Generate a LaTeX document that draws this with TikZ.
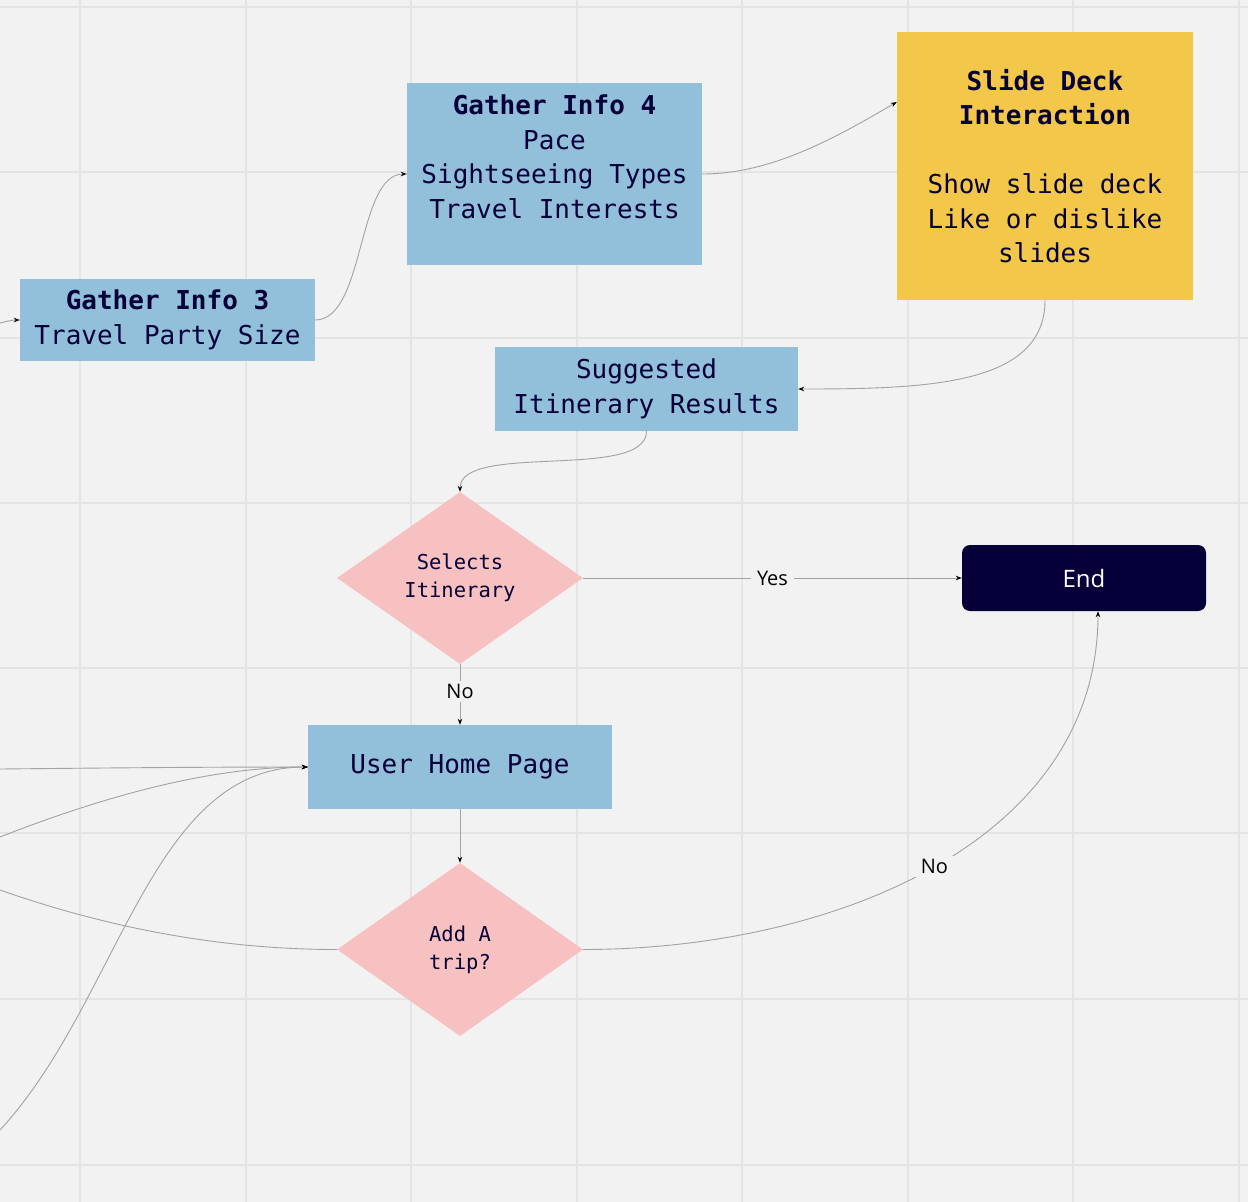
\documentclass[tikz,border=0pt]{standalone}
\usepackage{fontspec}
\setmainfont{Open Sans}
\setmonofont{DejaVu Sans Mono}
\usetikzlibrary{shapes.geometric,arrows.meta,calc}
\definecolor{bg}{HTML}{F2F2F2}
\definecolor{gridc}{HTML}{E4E4E4}
\definecolor{boxblue}{HTML}{92BFDA}
\definecolor{boxyellow}{HTML}{F3C74A}
\definecolor{boxpink}{HTML}{F7C1C1}
\definecolor{navy}{HTML}{050038}
\definecolor{edgec}{HTML}{A2A2A2}
\tikzset{
  bluebox/.style={rectangle, fill=boxblue, inner sep=0pt, align=center, text=navy,
    font=\ttfamily\fontsize{26}{34.5}\selectfont},
  yellowbox/.style={bluebox, fill=boxyellow},
  decision/.style={diamond, fill=boxpink, inner sep=0pt, align=center, text=navy,
    font=\ttfamily\fontsize{20.5}{28}\selectfont},
  endbox/.style={rectangle, rounded corners=8pt, fill=navy, text=white, inner sep=0pt,
    font=\fontsize{24}{28}\selectfont},
  conn/.style={draw=edgec, line width=0.9pt, -{Stealth[length=6pt,width=4.5pt,color=black]}},
  plainconn/.style={draw=edgec, line width=0.9pt},
  lbl/.style={fill=bg, inner xsep=6pt, inner ysep=3pt, text=black, font=\fontsize{20}{24}\selectfont}
}
\begin{document}
\begin{tikzpicture}[x=1pt,y=-1pt]
\useasboundingbox (0,0) rectangle (1248,1202);
\fill[bg] (0,0) rectangle (1248,1202);
% grid
\foreach \gx in {80,245.5,411,576.5,742,907.5,1073,1238.5}
  \draw[gridc, line width=2pt] (\gx,0) -- (\gx,1202);
\foreach \gy in {6.5,172,338,503,668,833,999,1165}
  \draw[gridc, line width=2pt] (0,\gy) -- (1248,\gy);

% nodes
\node[bluebox, minimum width=295pt, minimum height=82pt] (gi3) at (167.5,320)
  {\textbf{Gather Info 3}\\Travel Party Size};
\node[bluebox, minimum width=295pt, minimum height=182pt] (gi4) at (554.5,174)
  {\textbf{Gather Info 4}\\Pace\\Sightseeing Types\\Travel Interests\\\mbox{}};
\node[yellowbox, minimum width=296pt, minimum height=268pt] (slide) at (1045,166)
  {\textbf{Slide Deck}\\\textbf{Interaction}\\[34.5pt]Show slide deck\\Like or dislike\\slides};
\node[bluebox, minimum width=303pt, minimum height=84pt] (sugg) at (646.5,389)
  {Suggested\\Itinerary Results};
\node[decision, minimum width=246pt, minimum height=172pt] (sel) at (460,578)
  {Selects\\Itinerary};
\node[endbox, minimum width=244pt, minimum height=66pt] (end) at (1084,578) {End};
\node[bluebox, minimum width=304pt, minimum height=84pt] (home) at (460,767)
  {User Home Page};
\node[decision, minimum width=246pt, minimum height=173pt] (add) at (460,949.5)
  {Add A\\trip?};

% off-picture ends
\coordinate (in3) at (0,323);
\coordinate (inA) at (0,769);
\coordinate (inB) at (0,837);
\coordinate (inC) at (0,1130);
\coordinate (outL) at (0,890);

% connectors
\draw[conn] (in3) .. controls (8,321) and (12,320) .. (gi3.west);
\draw[conn] (gi3.east) .. controls +(50,0) and +(-50,0) .. (gi4.west);
\draw[conn] (gi4.east) .. controls +(70,0) and +(-60,35) .. ([yshift=64pt]slide.west);
\draw[conn] (slide.south) .. controls +(0,85) and +(130,0) .. (sugg.east);
\draw[conn] (sugg.south) .. controls +(0,50) and +(0,-50) .. (sel.north);
\draw[conn] (sel.east) -- node[lbl, pos=0.5] {Yes} (end.west);
\draw[conn] (sel.south) -- node[lbl, pos=0.45] {No} (home.north);
\draw[conn] (home.south) -- (add.north);
\draw[conn] (add.east) .. controls +(250,0) and +(0,230) .. node[lbl, pos=0.5] {No} ([xshift=14pt]end.south);
\draw[plainconn] (add.west) .. controls +(-140,0) and (80,918) .. (outL);
\draw[conn] (inA) .. controls (100,768) and (200,767) .. (home.west);
\draw[conn] (inB) .. controls (120,790) and (220,767) .. (home.west);
\draw[conn] (inC) .. controls (120,1000) and (150,767) .. (home.west);
\end{tikzpicture}
\end{document}
